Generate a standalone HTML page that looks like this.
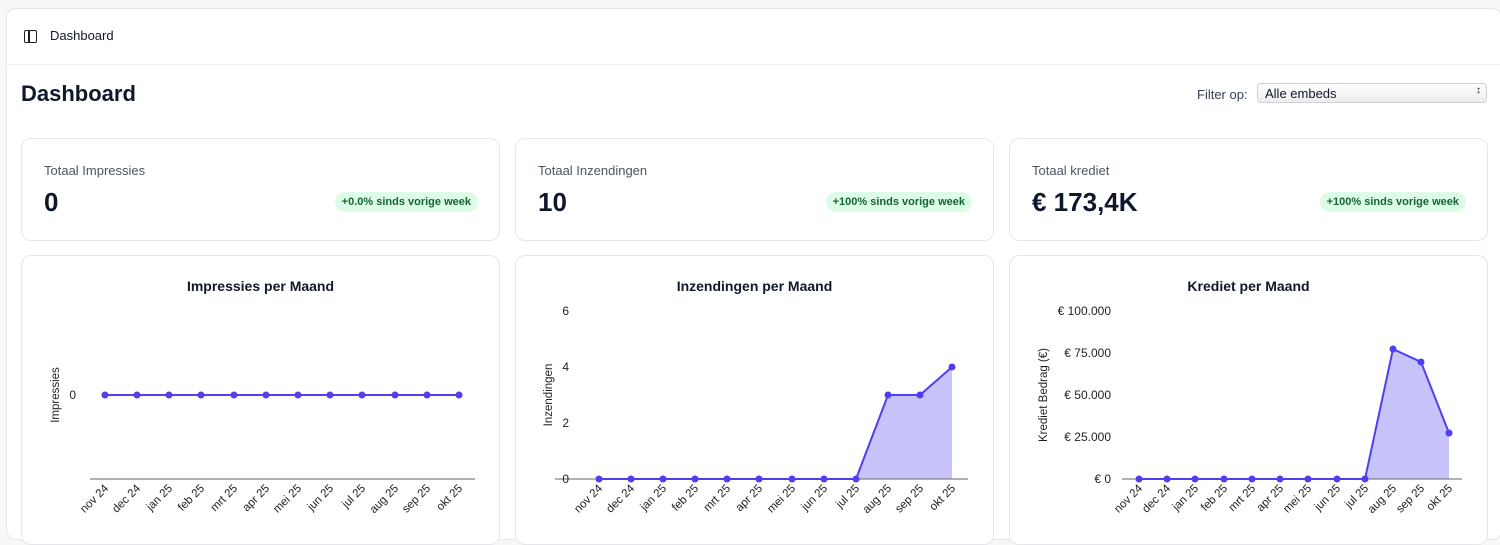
<!DOCTYPE html>
<html><head><meta charset="utf-8"><style>
body{margin:0;width:1500px;height:534px;overflow:hidden;background:#f7f7f8;font-family:"Liberation Sans",sans-serif;position:relative;color:#111827}
.a{position:absolute}
.card{position:absolute;background:#fff;border:1px solid #e5e7eb;border-radius:10px;box-sizing:border-box}
.lbl{font-size:13px;color:#4b5563}
.big{font-size:26px;font-weight:bold;color:#0f172a}
.pill{position:absolute;background:#dcfce7;color:#166534;font-size:11px;font-weight:bold;border-radius:10px;padding:4px 7px}
.tt{font-size:14px;font-weight:bold;text-align:center;width:100%;top:22px}
</style></head><body>
<div class="a" style="left:6px;top:8px;width:1494px;height:530px;background:#fff;border:1px solid #e5e7eb;border-radius:10px"></div>
<div class="a" style="left:6px;top:64px;width:1494px;height:1px;background:#eceef1"></div>
<div class="a" style="left:24px;top:30px;width:11px;height:11px;border:1.5px solid #222;border-radius:2px"></div>
<div class="a" style="left:28px;top:30px;width:1.5px;height:13px;background:#222"></div>
<div class="a" style="left:50px;top:28px;font-size:13px">Dashboard</div>
<div class="a" style="left:21px;top:81px;font-size:22px;font-weight:bold;color:#0f172a">Dashboard</div>
<div class="a" style="left:1197px;top:87px;font-size:13px;color:#374151">Filter op:</div>
<div class="a" style="left:1257px;top:83px;width:230px;height:20px;border:1px solid #cfd2d6;border-radius:4px;background:linear-gradient(#fff,#ededed);box-sizing:border-box;font-size:13px;padding:2px 7px">Alle embeds<span style="position:absolute;right:5px;top:1px;font-size:10px">&#x2195;</span></div>

<div class="card" style="left:21px;top:138px;width:479px;height:103px"><div class="a lbl" style="left:22px;top:24px">Totaal Impressies</div><div class="a big" style="left:22px;top:48px">0</div><div class="pill" style="right:21px;top:53px">+0.0% sinds vorige week</div></div>
<div class="card" style="left:515px;top:138px;width:479px;height:103px"><div class="a lbl" style="left:22px;top:24px">Totaal Inzendingen</div><div class="a big" style="left:22px;top:48px">10</div><div class="pill" style="right:21px;top:53px">+100% sinds vorige week</div></div>
<div class="card" style="left:1009px;top:138px;width:479px;height:103px"><div class="a lbl" style="left:22px;top:24px">Totaal krediet</div><div class="a big" style="left:22px;top:48px">€ 173,4K</div><div class="pill" style="right:21px;top:53px">+100% sinds vorige week</div></div>

<div class="card" style="left:21px;top:255px;width:479px;height:290px"><div class="a tt">Impressies per Maand</div></div>
<div class="card" style="left:515px;top:255px;width:479px;height:290px"><div class="a tt">Inzendingen per Maand</div></div>
<div class="card" style="left:1009px;top:255px;width:479px;height:290px"><div class="a tt">Krediet per Maand</div></div>

<svg class="a" style="left:0;top:0" width="1500" height="534" font-family="Liberation Sans, sans-serif" font-size="11.5" fill="#222">
<g id="c1">
<line x1="90" y1="479" x2="475" y2="479" stroke="#666"/>
<text x="76" y="399" text-anchor="end" font-size="12">0</text>
<text transform="translate(59,395) rotate(-90)" text-anchor="middle">Impressies</text>
<polyline points="105,395 137,395 169,395 201,395 234,395 266,395 298,395 330,395 362,395 395,395 427,395 459,395" fill="none" stroke="#4f3ff0" stroke-width="2"/>
<g fill="#4f3ff0"><circle cx="105" cy="395" r="3.5"/><circle cx="137" cy="395" r="3.5"/><circle cx="169" cy="395" r="3.5"/><circle cx="201" cy="395" r="3.5"/><circle cx="234" cy="395" r="3.5"/><circle cx="266" cy="395" r="3.5"/><circle cx="298" cy="395" r="3.5"/><circle cx="330" cy="395" r="3.5"/><circle cx="362" cy="395" r="3.5"/><circle cx="395" cy="395" r="3.5"/><circle cx="427" cy="395" r="3.5"/><circle cx="459" cy="395" r="3.5"/></g>
<g text-anchor="end">
<text transform="translate(109,489) rotate(-45)">nov 24</text><text transform="translate(141,489) rotate(-45)">dec 24</text><text transform="translate(173,489) rotate(-45)">jan 25</text><text transform="translate(205,489) rotate(-45)">feb 25</text><text transform="translate(238,489) rotate(-45)">mrt 25</text><text transform="translate(270,489) rotate(-45)">apr 25</text><text transform="translate(302,489) rotate(-45)">mei 25</text><text transform="translate(334,489) rotate(-45)">jun 25</text><text transform="translate(366,489) rotate(-45)">jul 25</text><text transform="translate(399,489) rotate(-45)">aug 25</text><text transform="translate(431,489) rotate(-45)">sep 25</text><text transform="translate(463,489) rotate(-45)">okt 25</text>
</g></g>
<g id="c2">
<polygon points="856,479 888,395 920,395 952,367 952,479" fill="#c7c4fb"/>
<line x1="555" y1="479" x2="968" y2="479" stroke="#666"/>
<g text-anchor="end" font-size="12"><text x="569" y="315">6</text><text x="569" y="371">4</text><text x="569" y="427">2</text><text x="569" y="483">0</text></g>
<text transform="translate(552,395) rotate(-90)" text-anchor="middle">Inzendingen</text>
<polyline points="599,479 631,479 663,479 695,479 727,479 759,479 792,479 824,479 856,479 888,395 920,395 952,367" fill="none" stroke="#4f3ff0" stroke-width="2"/>
<g fill="#4f3ff0"><circle cx="599" cy="479" r="3.5"/><circle cx="631" cy="479" r="3.5"/><circle cx="663" cy="479" r="3.5"/><circle cx="695" cy="479" r="3.5"/><circle cx="727" cy="479" r="3.5"/><circle cx="759" cy="479" r="3.5"/><circle cx="792" cy="479" r="3.5"/><circle cx="824" cy="479" r="3.5"/><circle cx="856" cy="479" r="3.5"/><circle cx="888" cy="395" r="3.5"/><circle cx="920" cy="395" r="3.5"/><circle cx="952" cy="367" r="3.5"/></g>
<g text-anchor="end">
<text transform="translate(603,489) rotate(-45)">nov 24</text><text transform="translate(635,489) rotate(-45)">dec 24</text><text transform="translate(667,489) rotate(-45)">jan 25</text><text transform="translate(699,489) rotate(-45)">feb 25</text><text transform="translate(731,489) rotate(-45)">mrt 25</text><text transform="translate(763,489) rotate(-45)">apr 25</text><text transform="translate(796,489) rotate(-45)">mei 25</text><text transform="translate(828,489) rotate(-45)">jun 25</text><text transform="translate(860,489) rotate(-45)">jul 25</text><text transform="translate(892,489) rotate(-45)">aug 25</text><text transform="translate(924,489) rotate(-45)">sep 25</text><text transform="translate(956,489) rotate(-45)">okt 25</text>
</g></g>
<g id="c3">
<polygon points="1365,479 1393,349 1421,362 1449,433 1449,479" fill="#c7c4fb"/>
<line x1="1122" y1="479" x2="1462" y2="479" stroke="#666"/>
<g text-anchor="end" font-size="12"><text x="1111" y="315">€ 100.000</text><text x="1111" y="357">€ 75.000</text><text x="1111" y="399">€ 50.000</text><text x="1111" y="441">€ 25.000</text><text x="1111" y="483">€ 0</text></g>
<text transform="translate(1047,395) rotate(-90)" text-anchor="middle">Krediet Bedrag (€)</text>
<polyline points="1139,479 1167,479 1195,479 1224,479 1252,479 1280,479 1308,479 1337,479 1365,479 1393,349 1421,362 1449,433" fill="none" stroke="#4f3ff0" stroke-width="2"/>
<g fill="#4f3ff0"><circle cx="1139" cy="479" r="3.5"/><circle cx="1167" cy="479" r="3.5"/><circle cx="1195" cy="479" r="3.5"/><circle cx="1224" cy="479" r="3.5"/><circle cx="1252" cy="479" r="3.5"/><circle cx="1280" cy="479" r="3.5"/><circle cx="1308" cy="479" r="3.5"/><circle cx="1337" cy="479" r="3.5"/><circle cx="1365" cy="479" r="3.5"/><circle cx="1393" cy="349" r="3.5"/><circle cx="1421" cy="362" r="3.5"/><circle cx="1449" cy="433" r="3.5"/></g>
<g text-anchor="end">
<text transform="translate(1143,489) rotate(-45)">nov 24</text><text transform="translate(1171,489) rotate(-45)">dec 24</text><text transform="translate(1199,489) rotate(-45)">jan 25</text><text transform="translate(1228,489) rotate(-45)">feb 25</text><text transform="translate(1256,489) rotate(-45)">mrt 25</text><text transform="translate(1284,489) rotate(-45)">apr 25</text><text transform="translate(1312,489) rotate(-45)">mei 25</text><text transform="translate(1341,489) rotate(-45)">jun 25</text><text transform="translate(1369,489) rotate(-45)">jul 25</text><text transform="translate(1397,489) rotate(-45)">aug 25</text><text transform="translate(1425,489) rotate(-45)">sep 25</text><text transform="translate(1453,489) rotate(-45)">okt 25</text>
</g></g>
</svg>
</body></html>
